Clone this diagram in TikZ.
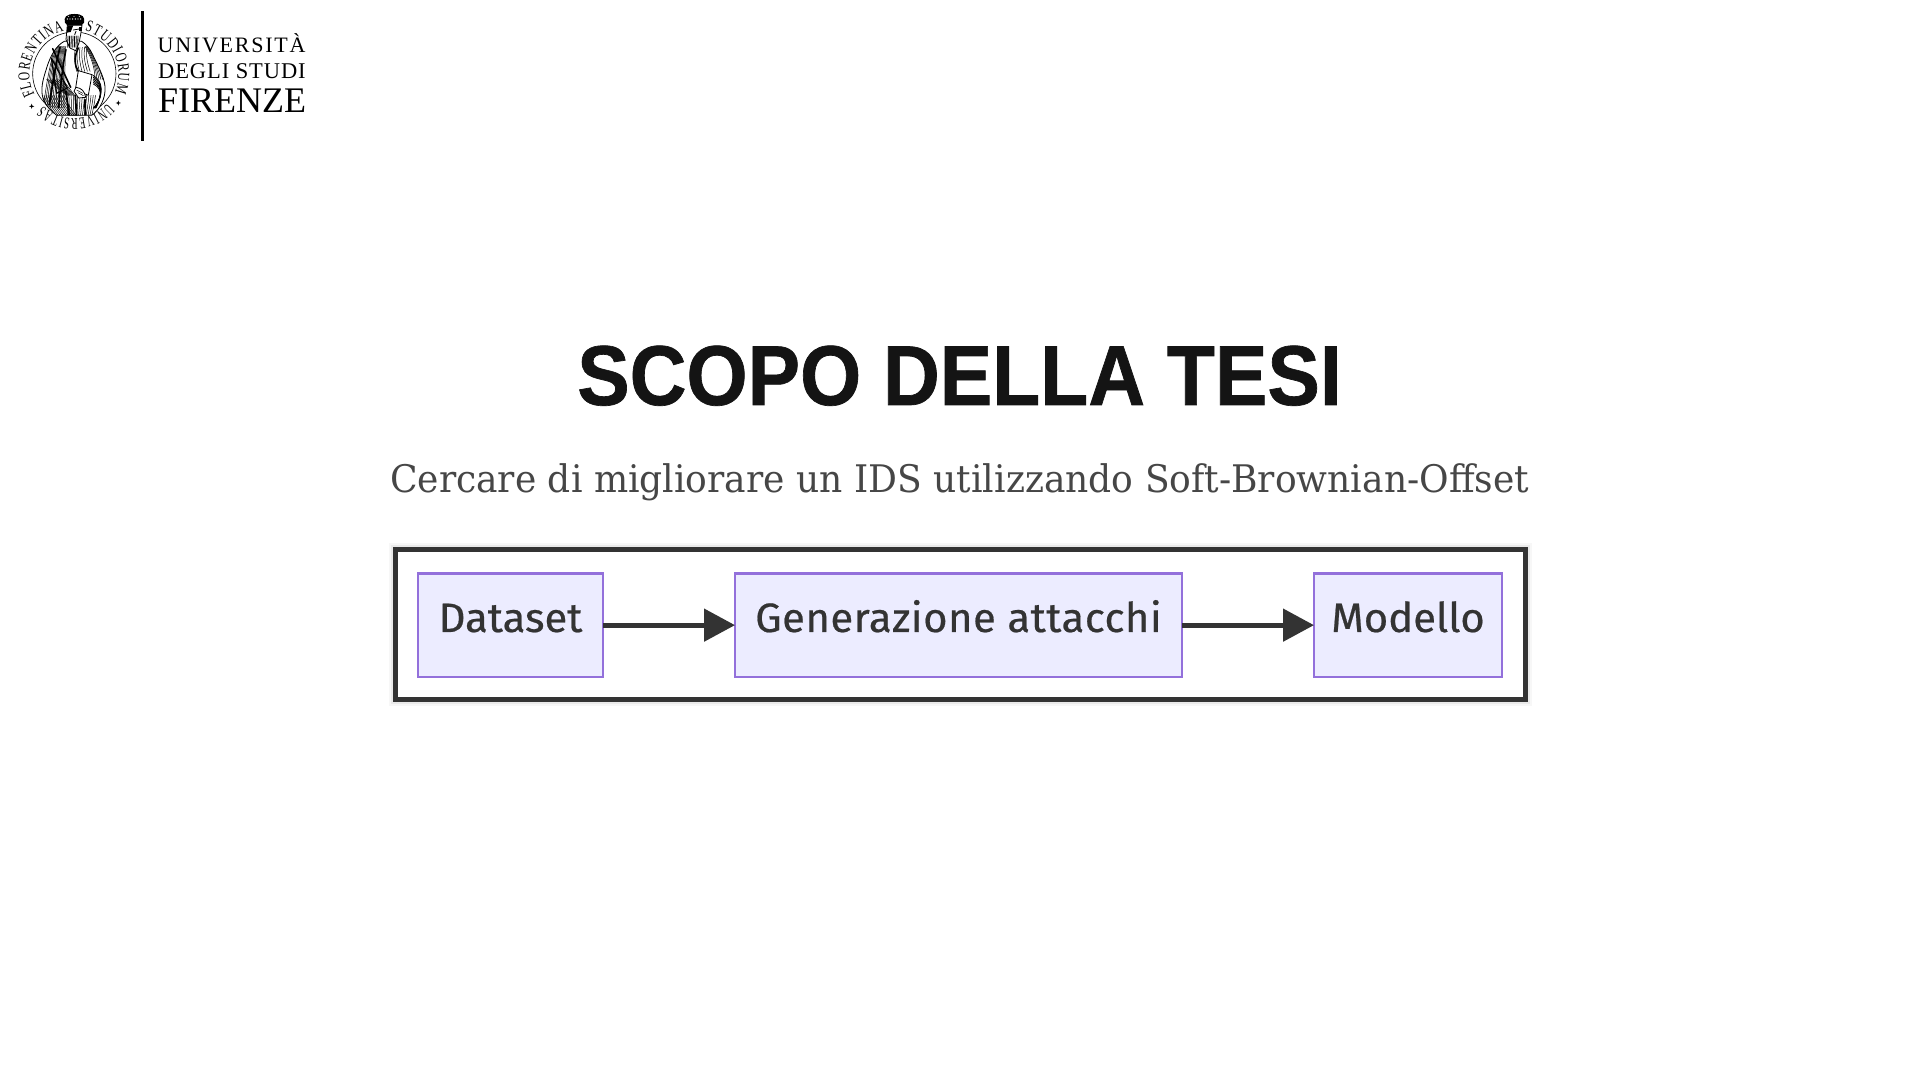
\documentclass[tikz,border=0pt]{standalone}
\usepackage{fontspec}
\usetikzlibrary{arrows.meta,decorations.text}
\setmainfont{Liberation Serif}
\newfontfamily\titlefont[FakeStretch=0.925,BoldFeatures={FakeBold=0.8}]{Liberation Sans}
\newfontfamily\subfont[FakeStretch=0.949]{DejaVu Serif}
\newfontfamily\flowfont[FakeStretch=1.02,FakeBold=0.5]{Fira Sans}
\newfontfamily\flowwidefont[FakeStretch=1.02,FakeBold=0.5,LetterSpace=1.2]{Fira Sans}
\newfontfamily\logofont{Liberation Serif}
\newfontfamily\logounifont[LetterSpace=8]{Liberation Serif}
\newfontfamily\logodegfont[LetterSpace=4]{Liberation Serif}
\newfontfamily\sealfont[FakeStretch=0.7]{Liberation Serif}
\newfontfamily\sealnarrowfont[FakeStretch=0.58]{Liberation Serif}
\definecolor{inkc}{HTML}{333333}
\definecolor{boxfill}{HTML}{ECECFF}
\definecolor{boxline}{HTML}{9370DB}
\tikzset{
  x=1pt,y=1pt,
  flowbox/.style={draw=boxline,fill=boxfill,line width=2.8pt,outer sep=0pt,inner ysep=0pt,inner xsep=0pt,
    text height=58.7pt,text depth=45pt,text=inkc,font=\flowfont\fontsize{41}{41}\selectfont},
  flowarrow/.style={draw=inkc,line width=5pt,-{Triangle[length=31pt,width=32pt,fill=inkc]}},
  logotext/.style={anchor=base west,inner sep=0pt,text=black},
  sealink/.style={draw=black,line width=.8pt,line cap=round,line join=round},
  sealthin/.style={draw=black,line width=.5pt,line cap=round}
}
\begin{document}
\begin{tikzpicture}
\useasboundingbox (0,0) rectangle (1920,1080);
\fill[white] (0,0) rectangle (1920,1080);

% ---- logo
\fill[black] (141,939) rectangle (144.2,1069);
\node[logotext] (uni) at (157.5,1027.4) {\logounifont\fontsize{22}{22}\selectfont UNIVERSITÀ};
\node[logotext] (deg) at (158,1001) {\logodegfont\fontsize{22.5}{22}\selectfont DEGLI STUDI};
\node[logotext] (fir) at (158,967) {\logofont\fontsize{36}{36}\selectfont FIRENZE};

\path[decorate,decoration={text along path,text align=fit to path,text={|\sealfont\fontsize{16.5}{16.5}\selectfont|FLORENTINA}}]
  (74,1006) ++(208:44.5) arc[start angle=208,end angle=103,radius=44.5];
\path[decorate,decoration={text along path,text align=fit to path,text={|\sealfont\fontsize{16.5}{16.5}\selectfont|STUDIORUM}}]
  (74,1006) ++(76:44.5) arc[start angle=76,end angle=-24,radius=44.5];
\path[decorate,decoration={text along path,text align=fit to path,text={|\sealnarrowfont\fontsize{16.5}{16.5}\selectfont|UNIVERSITAS}}]
  (74,1006) ++(-41:44.5) arc[start angle=-41,end angle=-134,radius=44.5];

\begin{scope}[shift={(10,1072)},x=0.3333pt,y=-0.3333pt]
  \draw[sealink,line width=.6pt] (193,197) circle[radius=125];
  \foreach \sx/\sy in {325/285,65/295}{
    \fill (\sx-8,\sy) -- (\sx-2,\sy-2) -- (\sx,\sy-8) -- (\sx+2,\sy-2) -- (\sx+8,\sy) -- (\sx+2,\sy+2) -- (\sx,\sy+8) -- (\sx-2,\sy+2) -- cycle;
  }
  % robe
  \filldraw[sealink,fill=white] (163,100) .. controls (140,112) and (122,140) .. (110,180)
     .. controls (102,205) and (92,235) .. (97,262)
     .. controls (102,290) and (120,305) .. (140,322) -- (245,322)
     .. controls (270,305) and (288,270) .. (285,235)
     .. controls (282,205) and (262,170) .. (248,140)
     .. controls (240,122) and (228,108) .. (215,100) -- cycle;
  \begin{scope}
    \clip (163,100) .. controls (140,112) and (122,140) .. (110,180)
     .. controls (102,205) and (92,235) .. (97,262)
     .. controls (102,290) and (120,305) .. (140,322) -- (245,322)
     .. controls (270,305) and (288,270) .. (285,235)
     .. controls (282,205) and (262,170) .. (248,140)
     .. controls (240,122) and (228,108) .. (215,100) -- cycle;
    \foreach \o in {0,6,...,72}{
      \draw[sealthin] (135+\o*.45,115) .. controls (120+\o*.6,170) and (108+\o*.8,230) .. (100+\o*.9,300);
    }
    \foreach \o in {0,6,...,66}{
      \draw[sealthin] (96+\o,262) .. controls (104+\o,285) and (118+\o,305) .. (135+\o,325);
    }
    \foreach \o in {0,6,...,48}{
      \draw[sealthin] (110+\o,215) -- (170+\o*.5,262);
    }
    \foreach \o in {0,7,...,35}{
      \draw[sealthin] (196+\o,118) .. controls (192+\o,145) and (194+\o*1.1,165) .. (200+\o*1.15,190);
    }
    \foreach \o in {0,6,...,36}{
      \draw[sealthin] (225+\o*.4,115) .. controls (245+\o*.4,150) and (255+\o*.5,180) .. (255+\o,215);
    }
    \foreach \o in {0,7,...,91}{
      \draw[sealthin] (170+\o*.95,262) .. controls (172+\o*.9,285) and (172+\o*.85,305) .. (172+\o*.8,325);
    }
    \draw[sealink,line width=1.8pt] (196,262) -- (200,325);
    \draw[sealink,line width=1.8pt] (225,275) -- (226,325);
    \draw[sealink,line width=1.8pt] (168,250) -- (178,325);
    \foreach \o in {0,5,...,25}{
      \draw[sealink,line width=.8pt] (250,203+\o) .. controls (280+\o*.2,220+\o) and (280-\o*.4,255+\o) .. (258-\o*.3,300);
    }
  \end{scope}
  \draw[sealink,line width=1.8pt] (150,118) .. controls (138,165) and (128,225) .. (118,290);
  \draw[sealink,line width=1.6pt] (128,122) -- (182,238);
  \draw[sealink,line width=1.2pt] (124,150) -- (172,240) -- (140,256) -- cycle;
  \draw[sealink,line width=1.6pt] (168,125) .. controls (158,170) and (152,230) .. (146,300);
  \draw[sealink,line width=1.6pt] (205,120) .. controls (190,150) and (195,175) .. (205,190);
  % crown
  \fill[black] (165,44) .. controls (160,27) and (170,18) .. (193,18) .. controls (218,18) and (226,27) .. (222,44) -- (215,52) -- (172,52) -- cycle;
  \foreach \cx in {172,180,188,196,204,212}{ \fill[white] (\cx,33) circle[radius=2.2]; }
  \foreach \cx in {176,192,208}{ \fill[white] (\cx,25) circle[radius=1.6]; }
  % head and beard
  \filldraw[sealink,fill=white] (172,52) -- (216,52) -- (212,80) -- (207,105) -- (197,128) -- (180,120) -- (168,95) -- cycle;
  \fill[black] (172,52) -- (190,52) -- (182,72) -- (171,74) -- cycle;
  \foreach \bx in {174,179,184,189,194,199,204}{ \draw[sealink] (\bx,84) -- (\bx-1,118); }
  \draw[sealink] (190,66) -- (208,63) (198,70) -- (194,80);
  \fill[black] (206,56) rectangle (215,68);
  % book
  \filldraw[sealink,fill=white] (205,188) -- (246,200) -- (235,262) -- (196,246) -- cycle;
  \draw[sealthin] (246,200) -- (255,205);
  % hand
  \filldraw[sealink,fill=white] (198,238) .. controls (215,240) and (224,250) .. (227,268) -- (206,270) -- (192,250) -- cycle;
  \draw[sealthin] (200,246) -- (218,256) (204,254) -- (220,263);
\end{scope}

% ---- titles
\node[anchor=base,inner sep=0pt,text={rgb,255:red,20;green,20;blue,20}] (title) at (959.5,675) {\titlefont\bfseries\fontsize{85}{85}\selectfont SCOPO DELLA TESI};
\node[anchor=base,inner sep=0pt,text={rgb,255:red,70;green,70;blue,70}] (subtitle) at (959.5,587.3) {\subfont\fontsize{38}{38}\selectfont Cercare di migliorare un IDS utilizzando Soft-Brownian-Offset};

% ---- flow
\foreach \w/\o in {13/.03,9/.05}{
  \draw[black,opacity=\o,line width=\w pt] (395,530) rectangle (1525,380);
}
\filldraw[draw=inkc,fill=white,line width=5pt] (395,530) rectangle (1525,380);
\node[flowbox,minimum width=185pt] (ds) at (510.5,454.85) {Dataset};
\node[flowbox,minimum width=447pt,font=\flowwidefont\fontsize{41}{41}\selectfont] (ga) at (958.5,454.85) {Generazione attacchi};
\node[flowbox,minimum width=188pt] (mo) at (1408,454.85) {Modello};
\draw[flowarrow] (ds) -- (ga);
\draw[flowarrow] (ga) -- (mo);
\end{tikzpicture}
\end{document}
